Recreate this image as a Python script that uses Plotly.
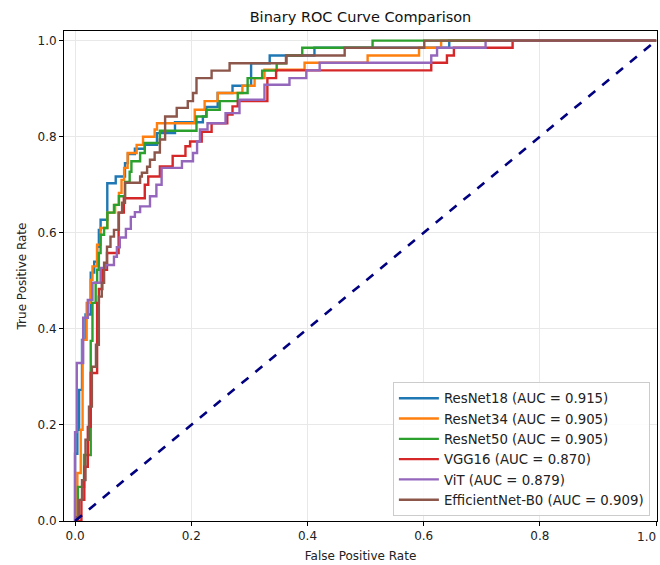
import plotly.graph_objects as go

# Each curve: staircase vertices (line_shape "vh": rise at previous fpr, then run to this fpr)
resnet18_fpr = [0, 0.004, 0.007, 0.012, 0.018, 0.027, 0.033, 0.038, 0.041, 0.044, 0.0555, 0.070, 0.086, 0.091, 0.103, 0.120, 0.141, 0.172, 0.220, 0.226, 0.2455, 0.271, 0.303, 0.335, 0.412, 0.644, 1.0]
resnet18_tpr = [0, 0.14, 0.19, 0.273, 0.377, 0.43, 0.517, 0.54, 0.571, 0.606, 0.627, 0.703, 0.717, 0.745, 0.764, 0.775, 0.783, 0.8075, 0.83, 0.842, 0.862, 0.891, 0.906, 0.953, 0.969, 0.985, 1.0]

resnet34_fpr = [0, 0.004, 0.0098, 0.013, 0.020, 0.027, 0.030, 0.038, 0.044, 0.0555, 0.069, 0.0755, 0.080, 0.0845, 0.0905, 0.106, 0.117, 0.137, 0.141, 0.206, 0.223, 0.2455, 0.288, 0.309, 0.326, 0.395, 0.5035, 0.592, 0.630, 1.0]
resnet34_tpr = [0, 0, 0.10, 0.19, 0.377, 0.454, 0.502, 0.53, 0.575, 0.61, 0.642, 0.658, 0.683, 0.71, 0.735, 0.766, 0.783, 0.80, 0.815, 0.828, 0.856, 0.874, 0.891, 0.906, 0.922, 0.9396, 0.954, 0.969, 0.985, 1.0]

resnet50_fpr = [0, 0.005, 0.0155, 0.027, 0.030, 0.0355, 0.038, 0.041, 0.044, 0.050, 0.0555, 0.067, 0.0755, 0.086, 0.094, 0.097, 0.112, 0.120, 0.146, 0.209, 0.226, 0.249, 0.280, 0.297, 0.322, 0.347, 0.364, 0.391, 0.512, 1.0]
resnet50_tpr = [0, 0, 0.071, 0.1375, 0.375, 0.454, 0.496, 0.523, 0.558, 0.596, 0.610, 0.642, 0.658, 0.676, 0.706, 0.727, 0.749, 0.766, 0.787, 0.8125, 0.842, 0.856, 0.874, 0.891, 0.922, 0.9375, 0.953, 0.969, 0.985, 1.0]

vgg16_fpr = [0, 0.011, 0.016, 0.022, 0.027, 0.038, 0.041, 0.047, 0.055, 0.075, 0.084, 0.120, 0.126, 0.146, 0.168, 0.190, 0.198, 0.218, 0.235, 0.262, 0.271, 0.280, 0.331, 0.346, 0.613, 0.640, 0.652, 0.753, 1.0]
vgg16_tpr = [0, 0, 0.044, 0.113, 0.196, 0.308, 0.454, 0.483, 0.523, 0.558, 0.642, 0.672, 0.70, 0.717, 0.738, 0.76, 0.78, 0.79, 0.81, 0.828, 0.846, 0.863, 0.874, 0.922, 0.938, 0.954, 0.969, 0.985, 1.0]

vit_fpr = [0, 0.003, 0.014, 0.022, 0.030, 0.044, 0.0525, 0.067, 0.072, 0.077, 0.0875, 0.096, 0.103, 0.112, 0.129, 0.140, 0.149, 0.184, 0.203, 0.210, 0.215, 0.228, 0.259, 0.283, 0.326, 0.369, 0.398, 0.421, 0.613, 0.623, 0.7065, 1.0]
vit_tpr = [0, 0.185, 0.329, 0.423, 0.46, 0.496, 0.527, 0.533, 0.55, 0.57, 0.59, 0.608, 0.633, 0.643, 0.655, 0.676, 0.70, 0.735, 0.749, 0.766, 0.79, 0.815, 0.828, 0.849, 0.877, 0.908, 0.922, 0.938, 0.954, 0.969, 0.985, 1.0]

effnet_fpr = [0, 0.003, 0.007, 0.012, 0.018, 0.024, 0.029, 0.036, 0.041, 0.046, 0.050, 0.055, 0.061, 0.067, 0.0755, 0.081, 0.086, 0.112, 0.115, 0.124, 0.129, 0.137, 0.146, 0.155, 0.175, 0.194, 0.203, 0.209, 0.235, 0.266, 0.363, 0.464, 0.601, 1.0]
effnet_tpr = [0, 0, 0.008, 0.044, 0.085, 0.169, 0.238, 0.321, 0.367, 0.467, 0.496, 0.5375, 0.571, 0.592, 0.606, 0.642, 0.6625, 0.704, 0.717, 0.725, 0.7375, 0.752, 0.767, 0.794, 0.842, 0.86, 0.874, 0.891, 0.922, 0.9375, 0.953, 0.969, 0.985, 1.0]

model_names = ["ResNet18", "ResNet34", "ResNet50", "VGG16", "ViT", "EfficientNet-B0"]
auc_values = [0.915, 0.905, 0.905, 0.870, 0.879, 0.909]
colors = ["#1f77b4", "#ff7f0e", "#2ca02c", "#d62728", "#9467bd", "#8c564b"]

curves = [
    (resnet18_fpr, resnet18_tpr),
    (resnet34_fpr, resnet34_tpr),
    (resnet50_fpr, resnet50_tpr),
    (vgg16_fpr, vgg16_tpr),
    (vit_fpr, vit_tpr),
    (effnet_fpr, effnet_tpr),
]

xticks = [0.0, 0.2, 0.4, 0.6, 0.8, 1.0]
yticks = [0.0, 0.2, 0.4, 0.6, 0.8, 1.0]

FONT = "DejaVu Sans"

fig = go.Figure()
for (fpr, tpr), name, auc, col in zip(curves, model_names, auc_values, colors):
    fig.add_trace(go.Scatter(
        x=fpr, y=tpr, mode="lines", line_shape="vh",
        line=dict(color=col, width=2.4),
        name=f"{name} (AUC = {auc:.3f})",
    ))

fig.add_trace(go.Scatter(
    x=[0, 1], y=[0, 1], mode="lines",
    line=dict(color="navy", width=2.6, dash="dash"),
    showlegend=False, hoverinfo="skip",
))

axis_common = dict(
    showline=True, linecolor="black", linewidth=1, mirror=True,
    ticks="outside", ticklen=4, tickcolor="black", tickwidth=1,
    showgrid=True, gridcolor="#e8e8e8", gridwidth=1,
    zeroline=False, tickformat=".1f",
    tickfont=dict(family=FONT, size=12, color="#222"),
)

fig.update_layout(
    width=660, height=565,
    margin=dict(l=64, r=3, t=31, b=44),
    paper_bgcolor="white", plot_bgcolor="white",
    font=dict(family=FONT, size=12, color="#222"),
    title=dict(text="Binary ROC Curve Comparison", x=0.5, xref="paper",
               y=1 - 17 / 565, yref="container", yanchor="middle",
               font=dict(family=FONT, size=14.5, color="#111")),
    xaxis=dict(range=[-0.019, 1.0015], tickvals=xticks,
               title=dict(text="False Positive Rate", standoff=9,
                          font=dict(family=FONT, size=12)),
               **axis_common),
    yaxis=dict(range=[0.0, 1.02], tickvals=yticks,
               title=dict(text="True Positive Rate", standoff=8,
                          font=dict(family=FONT, size=12)),
               **axis_common),
    legend=dict(x=0.988, y=0.01, xanchor="right", yanchor="bottom",
                bgcolor="rgba(255,255,255,0.85)", bordercolor="#cccccc", borderwidth=1,
                font=dict(family=FONT, size=13.3, color="#222"),
                tracegroupgap=0, itemwidth=40),
    showlegend=True,
)

# last x tick label sits at the right edge of the figure; keep it fully inside
fig.add_annotation(
    x=xticks[-1], xref="x", y=0, yref="paper", yshift=-16, xshift=2,
    text=f"{xticks[-1]:.1f}", showarrow=False, xanchor="right", yanchor="middle",
    font=dict(family=FONT, size=12, color="#222"),
)

fig.write_html("out.html")
